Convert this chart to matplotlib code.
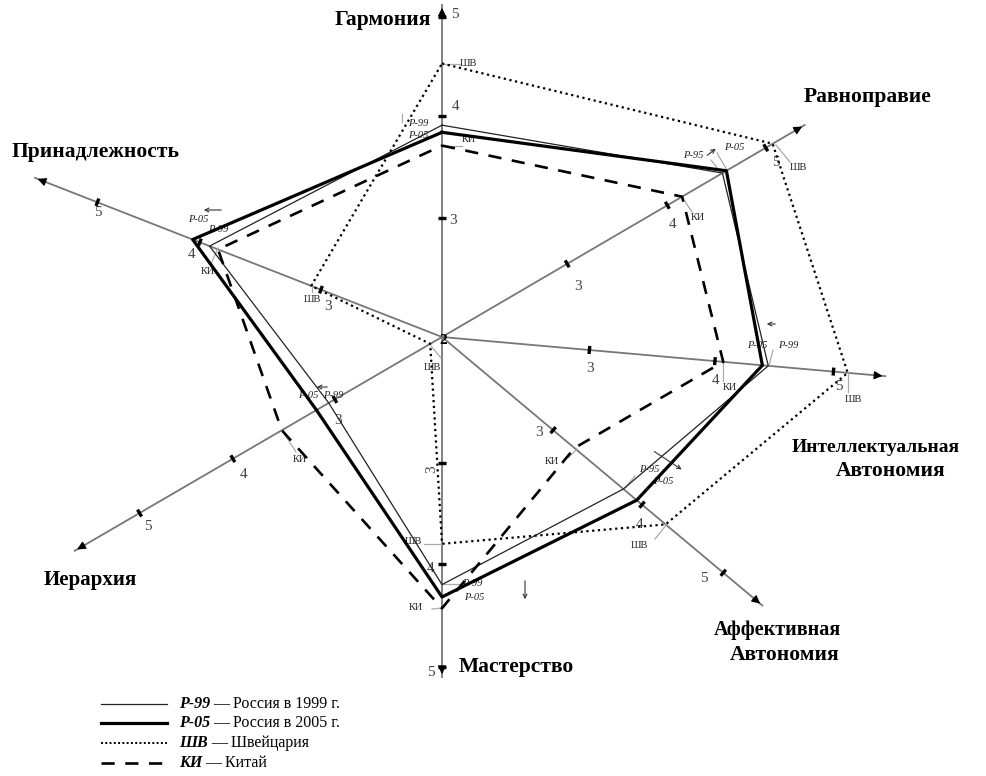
import numpy as np
import matplotlib
matplotlib.use("Agg")
import matplotlib.pyplot as plt

# ---------------- data ----------------
axis_names = ["Гармония", "Равноправие", "Интеллектуальная\nАвтономия",
              "Аффективная\nАвтономия", "Мастерство", "Иерархия", "Принадлежность"]
tick_values = [3, 4, 5]
r99 = [3.91, 4.56, 4.45, 3.79, 4.20, 3.06, 3.92]
r05 = [3.84, 4.60, 4.40, 3.94, 4.32, 3.18, 4.07]
shv = [4.53, 5.07, 5.12, 4.29, 3.80, 2.11, 3.08]
ki = [3.71, 4.15, 4.07, 3.24, 4.43, 3.52, 3.85]
legend_codes = ["Р-99", "Р-05", "ШВ", "КИ"]
legend_texts = ["— Россия в 1999 г.", "— Россия в 2005 г.", "— Швейцария", "— Китай"]

# ---------------- geometry (hand-drawn, irregular axes) ----------------
center = np.array([442.0, 337.0])
axis_dirs = [(0, -1), (0.864, -0.505), (0.996, 0.088), (0.766, 0.642),
             (0, 1), (-0.864, 0.503), (-0.931, -0.364)]
tick_dist = [(119, 221, 320), (145, 261, 375), (148, 274, 393), (145, 261, 367),
             (126, 227, 330), (124, 242, 350), (130, 260, 370)]
axis_len = [332, 420, 445, 418, 340, 425, 437]

SERIF = "Liberation Serif"


def unit(i):
    d = np.array(axis_dirs[i], float)
    return d / np.hypot(*d)


def dist(i, v):
    d3, d4, d5 = tick_dist[i]
    if v > 5:
        return d5 + (v - 5) * (d5 - d4)
    return float(np.interp(v, [2, 3, 4, 5], [0, d3, d4, d5]))


def pos(i, v):
    return center + dist(i, v) * unit(i)


fig = plt.figure(figsize=(9.87, 7.76), dpi=100)
ax = fig.add_axes([0, 0, 1, 1])
ax.set_xlim(0, 987)
ax.set_ylim(776, 0)
ax.axis("off")

# axes with ticks and arrows
for i in range(len(axis_names)):
    u = unit(i)
    tip = center + axis_len[i] * u
    ax.plot([center[0], tip[0]], [center[1], tip[1]], color="#777777", lw=1.3, zorder=1)
    ax.annotate("", xy=tip, xytext=tip - 12 * u,
                arrowprops=dict(arrowstyle="-|>", color="black", lw=1, mutation_scale=12))
    perp = np.array([-u[1], u[0]])
    for tv in tick_values:
        p = pos(i, tv)
        a, b = p - 4 * perp, p + 4 * perp
        ax.plot([a[0], b[0]], [a[1], b[1]], color="black", lw=2.4, zorder=3,
                solid_capstyle="butt")

# series
def draw(vals, **kw):
    pts = np.array([pos(i, v) for i, v in enumerate(vals)] + [pos(0, vals[0])])
    ax.plot(pts[:, 0], pts[:, 1], zorder=4, **kw)

draw(r99, color="#222222", lw=0.9)
draw(r05, color="black", lw=2.3)
draw(shv, color="black", lw=1.6, linestyle=(0, (1, 1.6)))
draw(ki, color="black", lw=1.9, linestyle=(0, (5, 4)))

# axis titles (each line placed separately)
title_lines = [
    [(383, 20, 15.5)],
    [(868, 97, 15.5)],
    [(876, 447, 14.0), (891, 471, 15.5)],
    [(777, 630, 14.5), (785, 655, 15.5)],
    [(516, 667, 15.5)],
    [(90, 580, 15)],
    [(96, 152, 15.5)],
]
for name, spec in zip(axis_names, title_lines):
    for line, (x, y, fs) in zip(name.split("\n"), spec):
        ax.text(x, y, line, family=SERIF, fontsize=fs, fontweight="bold",
                ha="center", va="center")

# tick numbers
tick_label_pos = {
    0: [(453, 220), (456, 106), (455, 15)],
    1: [(578, 286), (673, 224), (776, 163)],
    2: [(590, 368), (716, 380), (839, 387)],
    3: [(539, 432), (640, 524), (704, 578)],
    4: [(432, 469), (431, 568), (431, 672)],
    5: [(338, 421), (244, 474), (148, 526)],
    6: [(328, 306), (192, 254), (98, 213)],
}
for i, lst in tick_label_pos.items():
    for tv, (x, y) in zip(tick_values, lst):
        rot = 90 if (i == 4 and tv == 3) else 0
        ax.text(x, y, str(tv), family=SERIF, fontsize=11, color="#444444",
                ha="center", va="center", rotation=rot)
ax.text(443, 340, "2", family=SERIF, fontsize=11, fontweight="bold", ha="center", va="center")

# small point labels with leader lines
def lab(txt, x, y, italic=False, fs=7.5):
    ax.text(x, y, txt, family=SERIF, fontsize=fs, ha="center", va="center",
            style="italic" if italic else "normal", color="#222222")

def lead(x0, y0, x1, y1):
    ax.plot([x0, x1], [y0, y1], color="#aaaaaa", lw=0.9, zorder=2)

def small_arrow(x0, y0, x1, y1):
    ax.annotate("", xy=(x1, y1), xytext=(x0, y0),
                arrowprops=dict(arrowstyle="->", color="#333333", lw=0.8, mutation_scale=7))

# Гармония
lead(442, 64, 460, 64); lab("ШВ", 468, 63)
lab("Р-99", 418, 124, True); lab("Р-05", 418, 135, True)
lead(402, 114, 402, 122)
lead(442, 146, 462, 146); lab("КИ", 469, 140)
# Равноправие
lab("Р-95", 693, 156, True); lab("Р-05", 734, 147, True)
lead(711, 160, 722, 174); lead(717, 153, 727, 170)
small_arrow(705, 157, 718, 147)
lead(776, 145, 790, 162); lab("ШВ", 798, 168)
lead(682, 197, 692, 212); lab("КИ", 698, 218)
# Интеллектуальная
lab("Р-05", 757, 346, True); lab("Р-99", 788, 346, True)
lead(769, 366, 773, 350)
small_arrow(778, 324, 764, 324)
lead(723, 361, 723, 381); lab("КИ", 730, 388)
lead(848, 372, 848, 392); lab("ШВ", 853, 399)
# Аффективная
lab("Р-95", 649, 469, True); lab("Р-05", 663, 482, True)
lead(635, 476, 625, 488)
small_arrow(652, 450, 684, 471)
lead(667, 524, 655, 539); lab("ШВ", 639, 545)
lead(577, 449, 568, 458); lab("КИ", 552, 461)
# Мастерство
lead(441, 544, 424, 544); lab("ШВ", 413, 542)
lead(443, 584, 462, 584); lab("Р-99", 472, 584, True); lab("Р-05", 474, 597, True)
lead(442, 608, 432, 609); lab("КИ", 416, 607)
small_arrow(525, 578, 525, 602)
# Иерархия
lab("Р-05", 308, 395, True); lab("Р-99", 333, 395, True)
small_arrow(330, 387, 314, 387)
lead(283, 432, 296, 452); lab("КИ", 300, 460)
lead(431, 346, 441, 358); lab("ШВ", 432, 367)
# Принадлежность
lab("Р-05", 198, 220, True); lab("Р-99", 218, 229, True)
small_arrow(224, 210, 201, 210)
lead(218, 248, 211, 264); lab("КИ", 208, 272)
lead(312, 283, 312, 292); lab("ШВ", 312, 299)

# legend (drawn manually, mixed bold-italic codes)
leg_styles = [dict(color="#222222", lw=0.9),
              dict(color="black", lw=2.3),
              dict(color="black", lw=1.4, linestyle=(0, (1, 1.2))),
              dict(color="black", lw=1.9, linestyle=(0, (5, 4)))]
leg_y = [704, 723, 743, 763]
fig.canvas.draw()
for code, txt, st, y in zip(legend_codes, legend_texts, leg_styles, leg_y):
    ax.plot([101, 167], [y, y], **st)
    t = ax.text(179, y, code, family=SERIF, fontsize=11.5, fontweight="bold",
                style="italic", ha="left", va="center")
    bb = t.get_window_extent(renderer=fig.canvas.get_renderer())
    x1 = ax.transData.inverted().transform((bb.x1, bb.y0))[0]
    ax.text(x1 + 3, y, txt, family=SERIF, fontsize=11.5, ha="left", va="center")

fig.savefig("out.png", dpi=100, facecolor="white")
